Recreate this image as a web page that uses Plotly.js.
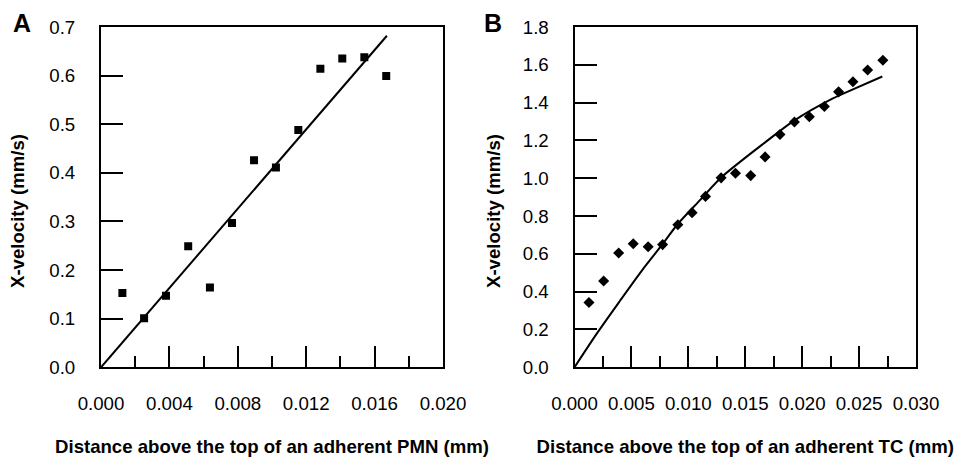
<!DOCTYPE html>
<html>
<head>
<meta charset="utf-8">
<script src="https://cdn.plot.ly/plotly-3.0.1.min.js"></script>
<style>
  html, body { margin: 0; padding: 0; background: #fff; }
  #chart { width: 957px; height: 457px; }
</style>
</head>
<body>
<div id="chart"></div>
<script>
// Panel A: adherent PMN
const pmnDistance = [0.00125, 0.00252, 0.0038, 0.0051, 0.00637, 0.00766, 0.00895, 0.01023, 0.01154, 0.01283, 0.01411, 0.0154, 0.01668];
const pmnVelocity = [0.153, 0.101, 0.147, 0.249, 0.164, 0.297, 0.426, 0.411, 0.488, 0.614, 0.635, 0.638, 0.599];
const pmnFitDistance = [0, 0.01672];
const pmnFitVelocity = [0, 0.682];

// Panel B: adherent TC
const tcDistance = [0.00127, 0.00256, 0.00388, 0.00516, 0.00647, 0.00774, 0.00908, 0.01033, 0.01151, 0.01288, 0.01414, 0.01548, 0.01674, 0.01805, 0.01932, 0.02063, 0.02195, 0.0232, 0.02446, 0.02575, 0.02709];
const tcVelocity = [0.343, 0.456, 0.605, 0.654, 0.638, 0.649, 0.754, 0.818, 0.904, 1.002, 1.026, 1.014, 1.113, 1.231, 1.298, 1.325, 1.379, 1.457, 1.510, 1.573, 1.624];
const tcFitDistance = [0, 0.002, 0.004, 0.006, 0.0077, 0.00902, 0.01107, 0.01291, 0.01686, 0.0192, 0.0227, 0.02476, 0.02704];
const tcFitVelocity = [0, 0.182, 0.352, 0.518, 0.6485, 0.754, 0.887, 1.005, 1.195, 1.301, 1.422, 1.478, 1.538];

// Labels
const panelLabels = ['A', 'B'];
const xTitles = ['Distance above the top of an adherent PMN (mm)', 'Distance above the top of an adherent TC (mm)'];
const yTitle = 'X-velocity (mm/s)';

const FONT = 'Arial, "Liberation Sans", sans-serif';
const W = 957, H = 457;
const TOP = 27, BOTTOM = 367.3;
const yDom = [1 - BOTTOM / H, 1 - TOP / H];

const traces = [
  { x: pmnDistance, y: pmnVelocity, type: 'scatter', mode: 'markers', xaxis: 'x', yaxis: 'y',
    marker: { symbol: 'square', size: 8, color: '#000' } },
  { x: pmnFitDistance, y: pmnFitVelocity, type: 'scatter', mode: 'lines', xaxis: 'x', yaxis: 'y',
    line: { color: '#000', width: 2 } },
  { x: tcDistance, y: tcVelocity, type: 'scatter', mode: 'markers', xaxis: 'x2', yaxis: 'y2',
    marker: { symbol: 'diamond', size: 8.5, color: '#000' } },
  { x: tcFitDistance, y: tcFitVelocity, type: 'scatter', mode: 'lines', xaxis: 'x2', yaxis: 'y2',
    line: { color: '#000', width: 2, shape: 'spline', smoothing: 0.8 } }
];

function xAxis(domain, range, dtick, title, anchor) {
  return {
    domain: domain, range: range, anchor: anchor, dtick: dtick,
    tickformat: '.3f', ticks: 'inside', ticklen: 21, tickwidth: 2, tickcolor: '#000',
    minor: { ticks: 'inside', ticklen: 11, tickwidth: 2, tickcolor: '#000', dtick: dtick / 2 },
    showline: true, linewidth: 2, linecolor: '#000', mirror: true,
    showgrid: false, zeroline: false,
    tickfont: { family: FONT, size: 18.7, color: '#000' },
    ticklabelstandoff: 18,
    title: { text: title, font: { family: FONT, size: 18.6, color: '#000', weight: 'bold' }, standoff: 27 }
  };
}
// Main y axis: line, major ticks and labels
function yAxis(range, dtick, anchor) {
  return {
    domain: yDom, range: range, anchor: anchor, dtick: dtick,
    tickformat: '.1f', ticks: 'inside', ticklen: 22, tickwidth: 2, tickcolor: '#000',
    showline: true, linewidth: 2, linecolor: '#000', mirror: true,
    showgrid: false, zeroline: false,
    tickfont: { family: FONT, size: 18.7, color: '#000' },
    ticklabelstandoff: 20
  };
}
// Overlay y axis: short (minor) ticks only
function yMinorAxis(range, dtick, anchor, over) {
  return {
    domain: yDom, range: range, anchor: anchor, overlaying: over, side: 'left',
    dtick: dtick, ticks: 'inside', ticklen: 12, tickwidth: 2, tickcolor: '#000',
    showticklabels: false, showline: false, showgrid: false, zeroline: false
  };
}

const layout = {
  width: W, height: H,
  margin: { l: 0, r: 0, t: 0, b: 0 },
  showlegend: false,
  xaxis: xAxis([101 / W, 443 / W], [0, 0.020], 0.004, xTitles[0], 'y'),
  yaxis: yAxis([0, 0.7], 0.1, 'x'),
  xaxis2: xAxis([574.5 / W, 916 / W], [0, 0.030], 0.005, xTitles[1], 'y2'),
  yaxis2: yAxis([0, 1.8], 0.2, 'x2'),
  yaxis3: yMinorAxis([0, 0.7], 0.05, 'x', 'y'),
  yaxis4: yMinorAxis([0, 1.8], 0.1, 'x2', 'y2'),
  annotations: [
    { text: panelLabels[0], xref: 'paper', yref: 'paper', x: 22 / W, y: 1 - 23 / H, xanchor: 'center', yanchor: 'middle',
      showarrow: false, font: { family: FONT, size: 25, color: '#000', weight: 'bold' } },
    { text: panelLabels[1], xref: 'paper', yref: 'paper', x: 492.5 / W, y: 1 - 23 / H, xanchor: 'center', yanchor: 'middle',
      showarrow: false, font: { family: FONT, size: 25, color: '#000', weight: 'bold' } },
    { text: yTitle, xref: 'paper', yref: 'paper', x: 17 / W, y: 1 - 211 / H, xanchor: 'center', yanchor: 'middle',
      textangle: -90, showarrow: false, font: { family: FONT, size: 18.6, color: '#000', weight: 'bold' } },
    { text: yTitle, xref: 'paper', yref: 'paper', x: 493 / W, y: 1 - 211 / H, xanchor: 'center', yanchor: 'middle',
      textangle: -90, showarrow: false, font: { family: FONT, size: 18.6, color: '#000', weight: 'bold' } }
  ]
};

Plotly.newPlot('chart', traces, layout, { displayModeBar: false });
</script>
</body>
</html>
